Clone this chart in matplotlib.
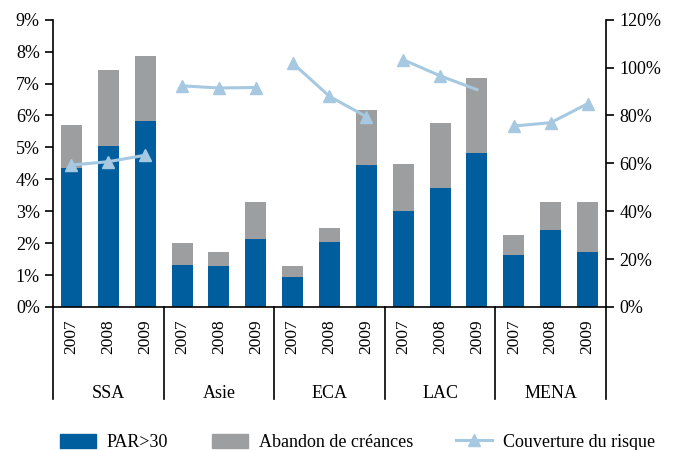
import matplotlib.pyplot as plt
import matplotlib.transforms as mtransforms
from matplotlib.patches import Patch
from matplotlib.lines import Line2D
from matplotlib.ticker import FuncFormatter

plt.rcParams['font.family'] = ['Liberation Serif', 'DejaVu Serif']

regions = ["SSA", "Asie", "ECA", "LAC", "MENA"]
years = ["2007", "2008", "2009"]

# PAR>30 (%)
par30 = [4.35, 5.05, 5.83, 1.31, 1.28, 2.13, 0.93, 2.03, 4.45,
         3.00, 3.73, 4.83, 1.62, 2.41, 1.72]
# Abandon de créances (%)
abandon = [1.35, 2.38, 2.04, 0.69, 0.44, 1.16, 0.35, 0.44, 1.73,
           1.48, 2.04, 2.35, 0.63, 0.88, 1.57]
# Couverture du risque (%), one list per region
couverture = [[59.3, 60.7, 63.4],
              [92.4, 91.5, 91.7],
              [101.9, 88.0, 79.5],
              [103.3, 96.6, 90.8],
              [75.6, 77.0, 84.9]]

blue = '#005d9e'
grey = '#9d9ea0'
light = '#a6c9e1'
fs = 13

fig = plt.figure(figsize=(6.76, 4.5), dpi=100)
ax = fig.add_axes([0.0784, 0.318, 0.818, 0.638])

x = list(range(len(par30)))
ax.bar(x, par30, width=0.57, color=blue, zorder=2)
ax.bar(x, abandon, width=0.57, bottom=par30, color=grey, zorder=2)

ax.set_xlim(-0.5, len(par30) - 0.5)
ax.set_ylim(0, 9)
ax.set_yticks(range(0, 10))
ax.yaxis.set_major_formatter(FuncFormatter(lambda v, p: f"{v:.0f}%"))
ax.set_xticks(x)
ax.set_xticklabels(years * len(regions), rotation=90, fontsize=12.5)
ax.tick_params(axis='x', length=0, pad=9)
ax.tick_params(axis='y', labelsize=fs, length=6, width=1.2, direction='out')
ax.spines['top'].set_visible(False)
ax.spines['right'].set_visible(False)
for s in ['left', 'bottom']:
    ax.spines[s].set_linewidth(1.2)

ax2 = ax.twinx()
ax2.set_ylim(0, 1.2)
ax2.set_yticks([0, 0.2, 0.4, 0.6, 0.8, 1.0, 1.2])
ax2.yaxis.set_major_formatter(FuncFormatter(lambda v, p: f"{v*100:.0f}%"))
ax2.tick_params(axis='y', labelsize=fs, length=6, width=1.2, direction='out')
ax2.spines['top'].set_visible(False)
ax2.spines['left'].set_visible(False)
ax2.spines['bottom'].set_visible(False)
ax2.spines['right'].set_linewidth(1.2)

for i, vals in enumerate(couverture):
    xs = [3 * i + k for k in range(3)]
    ys = [v / 100 for v in vals]
    me = [0, 1] if regions[i] == "LAC" else [0, 1, 2]
    ax2.plot(xs, ys, color=light, lw=2.2, marker='^', markersize=8,
             markevery=me, zorder=3)

# group separators and region labels below the axis
trans = mtransforms.blended_transform_factory(ax.transData, ax.transAxes)
for i in range(len(regions) + 1):
    ax.plot([3 * i - 0.5, 3 * i - 0.5], [0, -0.32], transform=trans,
            color='black', lw=1.2, clip_on=False)
for i, r in enumerate(regions):
    ax.text(3 * i + 1, -0.302, r, transform=trans, ha='center', va='center',
            fontsize=fs)

handles = [Patch(color=blue), Patch(color=grey),
           Line2D([], [], color=light, lw=2.2, marker='^', markersize=8)]
labels = ["PAR>30", "Abandon de créances", "Couverture du risque"]
fig.legend(handles, labels, loc='center', bbox_to_anchor=(0.529, 0.017),
           ncol=3, frameon=False, fontsize=fs, handlelength=2.0,
           handleheight=0.8, columnspacing=2.4, handletextpad=0.6)

fig.savefig('out.png', dpi=100)
